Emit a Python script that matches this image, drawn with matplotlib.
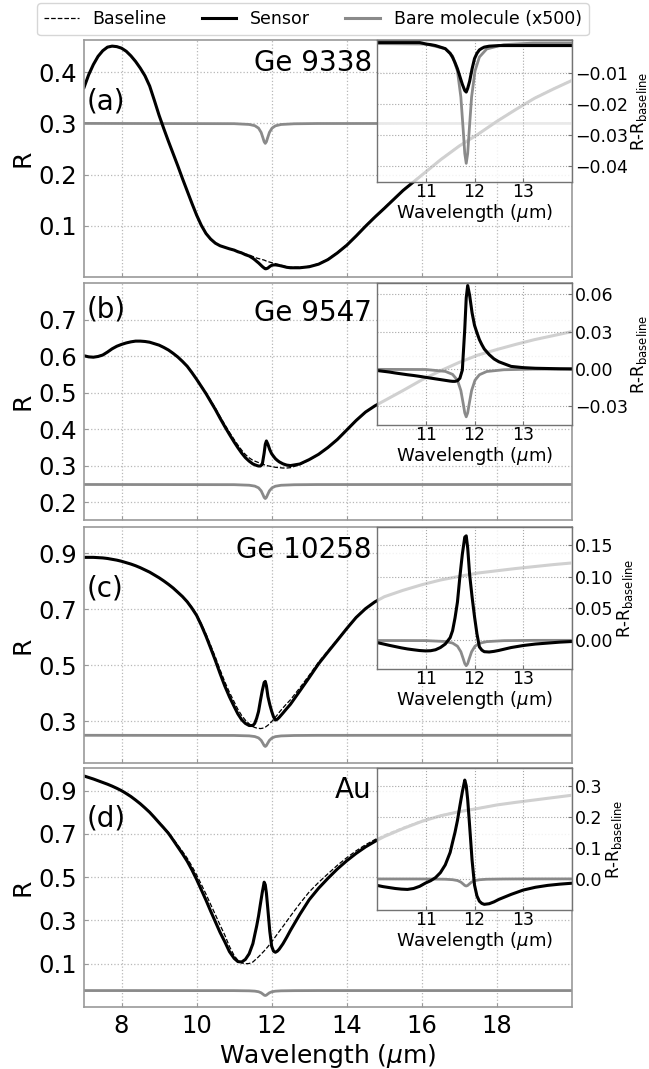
import numpy as np
import matplotlib.pyplot as plt
from matplotlib.lines import Line2D

# wavelength grid (um), denser around the 11.8 um molecular band
WL = [7.0, 7.125, 7.25, 7.375, 7.5, 7.625, 7.75, 7.875, 8.0, 8.125, 8.25, 8.375,
      8.5, 8.625, 8.75, 8.875, 9.0, 9.125, 9.25, 9.375, 9.5, 9.625, 9.75, 9.875,
      10.0, 10.125, 10.25, 10.375, 10.5, 10.625, 10.75, 10.875, 11.0,
      11.1, 11.2, 11.3, 11.4, 11.5, 11.55, 11.6, 11.65, 11.7, 11.75, 11.8, 11.83,
      11.86, 11.9, 11.95, 12.0, 12.05, 12.1, 12.15, 12.2, 12.3, 12.4, 12.5,
      12.75, 13.0, 13.25, 13.5, 13.75, 14.0, 14.25, 14.5, 14.75, 15.0,
      15.5, 16.0, 16.5, 17.0, 17.5, 18.0, 18.5, 19.0, 19.5, 20.0]

# baseline reflectance of each sensor
BASE_A = [0.370, 0.395, 0.415, 0.431, 0.442, 0.449, 0.451, 0.450, 0.447, 0.441, 0.432, 0.421,
          0.408, 0.393, 0.373, 0.345, 0.316, 0.290, 0.265, 0.241, 0.217, 0.192, 0.168, 0.144,
          0.121, 0.101, 0.085, 0.074, 0.066, 0.061, 0.058, 0.055, 0.053,
          0.050, 0.048, 0.045, 0.043, 0.040, 0.0385, 0.037, 0.036, 0.035, 0.034, 0.033, 0.032,
          0.031, 0.030, 0.029, 0.028, 0.027, 0.026, 0.025, 0.024, 0.022, 0.020, 0.019,
          0.019, 0.021, 0.026, 0.035, 0.048, 0.063, 0.081, 0.100, 0.118, 0.135,
          0.170, 0.200, 0.230, 0.257, 0.280, 0.305, 0.328, 0.350, 0.368, 0.385]
BASE_B = [0.601, 0.598, 0.597, 0.599, 0.603, 0.611, 0.620, 0.627, 0.632, 0.636, 0.639, 0.641,
          0.641, 0.640, 0.638, 0.634, 0.630, 0.624, 0.617, 0.608, 0.598, 0.586, 0.573, 0.556,
          0.538, 0.519, 0.500, 0.479, 0.458, 0.435, 0.413, 0.392, 0.372,
          0.357, 0.343, 0.331, 0.322, 0.315, 0.313, 0.311, 0.309, 0.307, 0.305, 0.303, 0.302,
          0.301, 0.300, 0.299, 0.298, 0.297, 0.296, 0.2955, 0.295, 0.294, 0.294, 0.295,
          0.303, 0.316, 0.331, 0.350, 0.372, 0.398, 0.424, 0.447, 0.464, 0.478,
          0.506, 0.535, 0.560, 0.583, 0.603, 0.618, 0.632, 0.645, 0.656, 0.667]
BASE_C = [0.886, 0.886, 0.886, 0.885, 0.884, 0.882, 0.879, 0.876, 0.872, 0.867, 0.862, 0.856,
          0.849, 0.841, 0.833, 0.823, 0.813, 0.802, 0.790, 0.777, 0.762, 0.747, 0.729, 0.707,
          0.682, 0.649, 0.612, 0.571, 0.529, 0.484, 0.441, 0.403, 0.369,
          0.342, 0.320, 0.303, 0.290, 0.280, 0.277, 0.275, 0.274, 0.273, 0.274, 0.276, 0.278,
          0.281, 0.285, 0.291, 0.298, 0.305, 0.314, 0.322, 0.331, 0.347, 0.362, 0.376,
          0.419, 0.464, 0.511, 0.552, 0.592, 0.633, 0.672, 0.703, 0.727, 0.745,
          0.768, 0.788, 0.805, 0.818, 0.830, 0.838, 0.846, 0.853, 0.860, 0.866]
BASE_D = [0.968, 0.961, 0.954, 0.946, 0.938, 0.930, 0.921, 0.911, 0.900, 0.887, 0.873, 0.857,
          0.840, 0.821, 0.801, 0.778, 0.754, 0.731, 0.707, 0.678, 0.648, 0.619, 0.588, 0.551,
          0.511, 0.467, 0.422, 0.374, 0.327, 0.279, 0.233, 0.180, 0.138,
          0.116, 0.104, 0.100, 0.101, 0.108, 0.116, 0.124, 0.132, 0.141, 0.150, 0.159, 0.165,
          0.171, 0.179, 0.190, 0.201, 0.213, 0.225, 0.237, 0.249, 0.272, 0.296, 0.320,
          0.378, 0.432, 0.476, 0.516, 0.555, 0.590, 0.622, 0.650, 0.674, 0.695,
          0.730, 0.762, 0.787, 0.805, 0.820, 0.835, 0.847, 0.858, 0.869, 0.880]

# R - R_baseline of the sensor with molecules (inset, black)
DELTA_A = [0, 0, 0, 0, 0, 0, 0, 0, 0, 0, 0, 0,
           0, 0, 0, 0, 0, 0, 0, 0, 0, 0, 0, 0,
           0, 0, 0, 0, 0, 0, 0, 0, -0.0005,
           -0.0007, -0.001, -0.0015, -0.002, -0.0035, -0.0048, -0.0065, -0.0085, -0.011, -0.0135, -0.0155, -0.016,
           -0.0148, -0.0125, -0.0085, -0.0052, -0.0035, -0.0024, -0.0019, -0.0015, -0.0012, -0.0011, -0.001,
           -0.001, -0.001, -0.001, -0.001, -0.001, -0.001, -0.001, -0.001, -0.001, -0.001,
           -0.001, -0.001, -0.001, -0.001, -0.001, -0.001, -0.001, -0.001, -0.001, -0.001]
DELTA_B = [0, 0, 0, 0, 0, 0, 0, 0, 0, 0, 0, 0,
           0, 0, 0, 0, 0, -0.0002, -0.0003, -0.0004, -0.0005, -0.0006, -0.0008, -0.001,
           -0.0013, -0.0019, -0.0025, -0.0033, -0.0040, -0.0047, -0.0053, -0.0060, -0.0068,
           -0.0074, -0.0080, -0.0086, -0.0092, -0.0098, -0.0100, -0.0100, -0.0095, -0.0075, -0.001, 0.032, 0.057,
           0.067, 0.059, 0.045, 0.035, 0.029, 0.0235, 0.0195, 0.016, 0.0115, 0.008, 0.0057,
           0.002, 0.001, 0.0005, 0.0003, 0.0001, 0, 0, 0, 0, 0,
           0, 0, 0, 0, 0, 0, 0, 0, 0, 0]
DELTA_C = [0, 0, 0, 0, 0, 0, 0, 0, 0, 0, 0, 0,
           0, 0, 0, 0, 0, -0.0003, -0.0005, -0.0007, -0.001, -0.0015, -0.002, -0.0028,
           -0.0037, -0.0058, -0.008, -0.010, -0.012, -0.0137, -0.015, -0.0162, -0.0168,
           -0.0165, -0.015, -0.0115, -0.006, 0.004, 0.015, 0.035, 0.060, 0.100, 0.135, 0.162, 0.164,
           0.145, 0.103, 0.068, 0.037, 0.010, -0.0105, -0.0155, -0.018, -0.0185, -0.0175, -0.016,
           -0.0115, -0.0083, -0.006, -0.0045, -0.003, -0.002, -0.0012, -0.0007, -0.0003, 0,
           0, 0, 0, 0, 0, 0, 0, 0, 0, 0]
DELTA_D = [0, 0, 0, 0, 0, 0, 0, 0, 0, 0, 0, -0.0003,
           -0.0005, -0.0008, -0.001, -0.0015, -0.002, -0.003, -0.004, -0.006, -0.008, -0.011, -0.014, -0.017,
           -0.021, -0.025, -0.028, -0.031, -0.033, -0.034, -0.031, -0.024, -0.013,
           -0.006, 0.004, 0.020, 0.045, 0.085, 0.118, 0.150, 0.188, 0.235, 0.280, 0.318, 0.300,
           0.255, 0.170, 0.060, -0.020, -0.055, -0.072, -0.079, -0.082, -0.080, -0.074, -0.066,
           -0.050, -0.036, -0.027, -0.021, -0.017, -0.014, -0.012, -0.010, -0.0085, -0.007,
           -0.005, -0.004, -0.003, -0.002, -0.002, -0.001, -0.001, -0.001, -0.001, -0.001]

# bare molecule response (x500)
BARE_WL = [7.0, 11.0, 11.4, 11.55, 11.65, 11.72, 11.77, 11.8, 11.83,
           11.86, 11.89, 11.94, 12.01, 12.1, 12.25, 12.6, 13.2, 20.0]
BARE_A = [0, -0.0005, -0.002, -0.0044, -0.0092, -0.0176, -0.0287, -0.0358, -0.039,
          -0.0358, -0.0287, -0.0176, -0.0092, -0.0047, -0.0021, -0.0007, -0.0002, 0]
BARE_B = [0, -0.0005, -0.002, -0.0044, -0.0091, -0.0174, -0.0283, -0.0353, -0.0385,
          -0.0353, -0.0283, -0.0174, -0.0091, -0.0047, -0.0021, -0.0007, -0.0002, 0]
BARE_C = [0, -0.0006, -0.002, -0.0045, -0.0094, -0.0181, -0.0294, -0.0367, -0.040,
          -0.0367, -0.0294, -0.0181, -0.0094, -0.0048, -0.0022, -0.0007, -0.0002, 0]
BARE_D = [0, -0.0003, -0.0012, -0.0026, -0.0054, -0.0104, -0.0169, -0.0211, -0.023,
          -0.0211, -0.0169, -0.0104, -0.0054, -0.0028, -0.0012, -0.0004, -0.0001, 0]
BARE_OFFSET = [0.30, 0.249, 0.249, -0.024]

LETTERS = ['(a)', '(b)', '(c)', '(d)']
SAMPLES = ['Ge 9338', 'Ge 9547', 'Ge 10258', 'Au']

BASES = [BASE_A, BASE_B, BASE_C, BASE_D]
DELTAS = [DELTA_A, DELTA_B, DELTA_C, DELTA_D]
BARES = [BARE_A, BARE_B, BARE_C, BARE_D]

# layout (figure fractions) and axis settings
MAIN_Y = [(0.7409, 0.2217), (0.5136, 0.2217), (0.2863, 0.2208), (0.0580, 0.2236)]
MAIN_L, MAIN_W = 0.1294, 0.7519
INS_L, INS_W, INS_H = 0.5809, 0.3005, 0.1328
MAIN_YLIM = [(0.0, 0.463), (0.152, 0.80), (0.15, 0.995), (-0.10, 1.005)]
MAIN_YTICKS = [[0.1, 0.2, 0.3, 0.4], [0.2, 0.3, 0.4, 0.5, 0.6, 0.7],
               [0.3, 0.5, 0.7, 0.9], [0.1, 0.3, 0.5, 0.7, 0.9]]
INS_YLIM = [(-0.045, 0.0008), (-0.045, 0.069), (-0.045, 0.178), (-0.10, 0.357)]
INS_YTICKS = [[-0.04, -0.03, -0.02, -0.01], [-0.03, 0.0, 0.03, 0.06],
              [0.0, 0.05, 0.10, 0.15], [0.0, 0.1, 0.2, 0.3]]
LETTER_Y = [0.74, 0.89, 0.74, 0.787]
SAMPLE_Y = [0.903, 0.873, 0.903, 0.908]

GREY = '#8a8a8a'

fig = plt.figure(figsize=(6.49, 10.69), dpi=100)
wl = np.array(WL)

for i in range(4):
    bottom, height = MAIN_Y[i]
    base = np.array(BASES[i])
    delta = np.array(DELTAS[i])
    bare = np.array(BARES[i])

    ax = fig.add_axes([MAIN_L, bottom, MAIN_W, height])
    ax.plot(BARE_WL, BARE_OFFSET[i] + bare, color=GREY, lw=2.0)
    ax.plot(wl, base + delta, color='black', lw=2.2)
    ax.plot(wl, base, color='black', lw=0.9, ls='--')
    ax.set_xlim(7, 20)
    ax.set_xticks([8, 10, 12, 14, 16, 18])
    ax.set_ylim(*MAIN_YLIM[i])
    ax.set_yticks(MAIN_YTICKS[i])
    ax.grid(True, ls=':', color='0.72', lw=0.9)
    for sp in ax.spines.values():
        sp.set_color('0.6')
        sp.set_linewidth(1.2)
    ax.tick_params(direction='in', length=3, color='0.6', labelsize=17.5, pad=5)
    ax.set_ylabel('R', fontsize=18, labelpad=3)
    if i < 3:
        ax.tick_params(labelbottom=False)
    else:
        ax.set_xlabel('Wavelength ($\\mu$m)', fontsize=18, labelpad=3)
    ax.text(0.006, LETTER_Y[i], LETTERS[i], transform=ax.transAxes,
            fontsize=20, ha='left', va='center')
    ax.text(0.59, SAMPLE_Y[i], SAMPLES[i], transform=ax.transAxes,
            fontsize=20, ha='right', va='center')

    # inset: difference to the baseline
    ins = fig.add_axes([INS_L, bottom + height - INS_H, INS_W, INS_H])
    ins.set_facecolor((1, 1, 1, 0.82))
    ins.plot(BARE_WL, bare, color=GREY, lw=2.0)
    ins.plot(wl, delta, color='black', lw=2.2)
    ins.set_xlim(10, 14)
    ins.set_xticks([11, 12, 13])
    ins.set_ylim(*INS_YLIM[i])
    ins.set_yticks(INS_YTICKS[i])
    ins.grid(True, ls=':', color='0.65', lw=0.8)
    for sp in ins.spines.values():
        sp.set_color('0.45')
        sp.set_linewidth(1.0)
    ins.yaxis.tick_right()
    ins.yaxis.set_label_position('right')
    ins.tick_params(direction='in', length=3, color='0.45', labelsize=12.5, pad=2)
    ins.tick_params(axis='x', pad=1)
    ins.set_xlabel('Wavelength ($\\mu$m)', fontsize=13, labelpad=0.5)
    ins.set_ylabel(r'R-R$_{\mathrm{baseline}}$', fontsize=12, labelpad=1)

handles = [Line2D([], [], color='black', lw=0.9, ls='--'),
           Line2D([], [], color='black', lw=2.2),
           Line2D([], [], color=GREY, lw=2.2)]
fig.legend(handles, ['Baseline', 'Sensor', 'Bare molecule (x500)'],
           loc='upper center', bbox_to_anchor=(0.482, 0.997), ncol=3,
           fontsize=12.5, borderaxespad=0)

fig.savefig('out.png', dpi=100)
